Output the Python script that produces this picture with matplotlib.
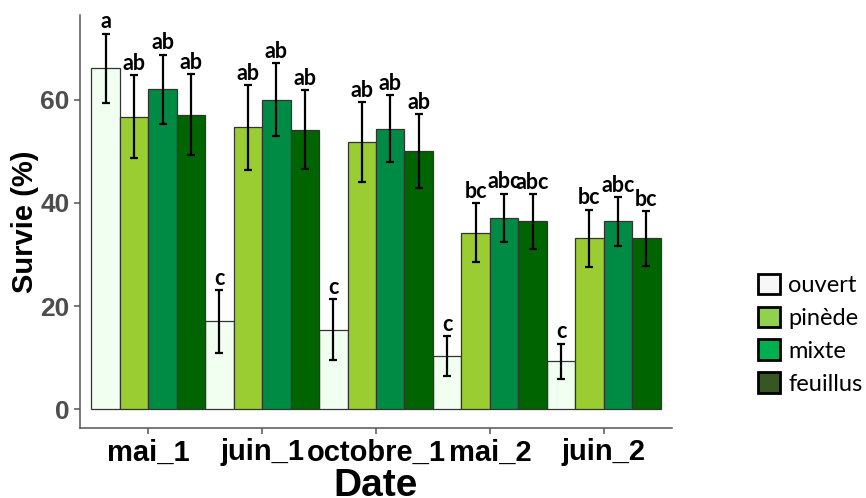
import numpy as np
import matplotlib
matplotlib.use("Agg")
import matplotlib.pyplot as plt
from matplotlib.patches import Patch

# survival (%) per date and habitat, with standard errors and group letters
dates = ["mai_1", "juin_1", "octobre_1", "mai_2", "juin_2"]
habitats = ["ouvert", "pinède", "mixte", "feuillus"]

ouvert = [66.1, 17.0, 15.4, 10.3, 9.3]
pinede = [56.7, 54.6, 51.8, 34.2, 33.1]
mixte = [62.0, 60.0, 54.4, 37.1, 36.4]
feuillus = [57.1, 54.2, 50.0, 36.4, 33.1]

ouvert_se = [6.7, 6.1, 5.9, 3.8, 3.4]
pinede_se = [8.0, 8.2, 7.7, 5.7, 5.6]
mixte_se = [6.7, 7.1, 6.5, 4.7, 4.7]
feuillus_se = [7.8, 7.6, 7.2, 5.3, 5.3]

ouvert_lab = ["a", "c", "c", "c", "c"]
pinede_lab = ["ab", "ab", "ab", "bc", "bc"]
mixte_lab = ["ab", "ab", "ab", "abc", "abc"]
feuillus_lab = ["ab", "ab", "ab", "abc", "bc"]

bar_colors = ["#F0FFF0", "#9ACD32", "#008B45", "#006400"]
legend_colors = ["#F7F7F7", "#92D050", "#00B050", "#375623"]

series = [ouvert, pinede, mixte, feuillus]
errors = [ouvert_se, pinede_se, mixte_se, feuillus_se]
letters = [ouvert_lab, pinede_lab, mixte_lab, feuillus_lab]

fig = plt.figure(figsize=(8.66, 4.98), dpi=100)
ax = fig.add_axes([0.0924, 0.1406, 0.6836, 0.8293])

x = np.arange(1, len(dates) + 1)
width = 0.25
for i, (vals, se, labs, col) in enumerate(zip(series, errors, letters, bar_colors)):
    pos = x - 0.375 + i * width
    ax.bar(pos, vals, width=width, color=col, edgecolor="#333333", linewidth=0.9, zorder=2)
    ax.errorbar(pos, vals, yerr=se, fmt="none", ecolor="black", elinewidth=1.6,
                capsize=3.2, capthick=1.6, zorder=3)
    for p, v, s, t in zip(pos, vals, se, labs):
        ax.annotate(t, (p, v + s), xytext=(0, 1), textcoords="offset points",
                    ha="center", va="bottom", fontsize=15.5, fontweight="bold",
                    family="Lato", zorder=4)

ax.set_xlim(0.4, 5.6)
ax.set_ylim(-3.64, 76.4)
ax.set_yticks([0, 20, 40, 60])
ax.set_xticks(x)
ax.set_xticklabels(dates)

for side in ["top", "right"]:
    ax.spines[side].set_visible(False)
for side in ["left", "bottom"]:
    ax.spines[side].set_color("#555555")
    ax.spines[side].set_linewidth(1.1)

ax.tick_params(axis="both", colors="#555555", length=4, width=1.1)
for lab in ax.get_yticklabels():
    lab.set_fontsize(19)
    lab.set_fontweight("bold")
    lab.set_color("#4D4D4D")
    lab.set_family("Liberation Sans")
for lab in ax.get_xticklabels():
    lab.set_fontsize(21)
    lab.set_fontweight("bold")
    lab.set_color("black")
    lab.set_family("Liberation Sans")

ax.set_ylabel("Survie (%)", fontsize=21, fontweight="bold", family="Liberation Sans", labelpad=1)
ax.set_xlabel("Date", fontsize=28, fontweight="bold", family="Liberation Sans", labelpad=1.5)

handles = [Patch(facecolor=c, edgecolor="black", linewidth=2) for c in legend_colors]
ax.legend(handles, habitats, loc="center left", bbox_to_anchor=(0.864, 0.329),
          bbox_transform=fig.transFigure, frameon=False,
          prop={"family": "Lato", "size": 17}, handlelength=0.95, handleheight=0.95,
          labelspacing=0.45, handletextpad=0.35, borderaxespad=0)

fig.savefig("out.png", dpi=100, facecolor="white")
